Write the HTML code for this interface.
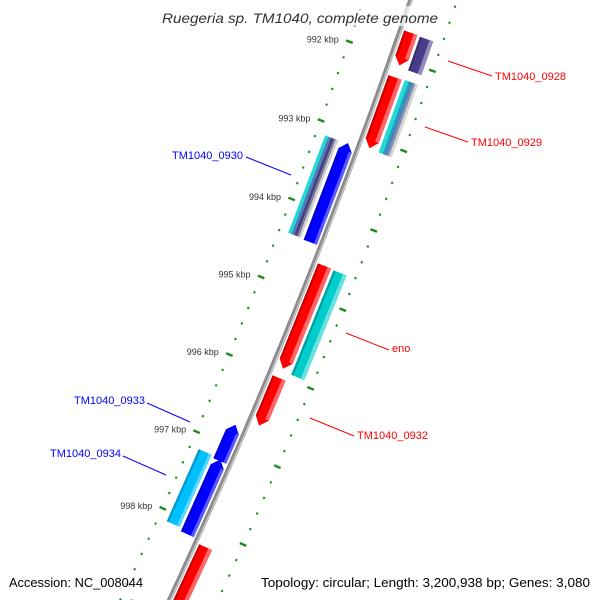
<!DOCTYPE html>
<html><head><meta charset="utf-8"><style>
html,body{margin:0;padding:0;background:#fff;width:600px;height:600px;overflow:hidden;}
svg{display:block;font-family:"Liberation Sans","DejaVu Sans",sans-serif;}
</style></head><body>
<svg id="map" width="600" height="600" viewBox="0 0 600 600" xmlns="http://www.w3.org/2000/svg">
<g id="ticks"></g>
<g id="backbone"></g>
<g id="genes"></g>
<g id="labels"></g>
<rect x="158" y="6" width="284" height="20" fill="#fff" opacity="0.7"/>
<text x="300" y="23" text-anchor="middle" font-size="14" font-style="italic" fill="#333" textLength="276" lengthAdjust="spacingAndGlyphs">Ruegeria sp. TM1040, complete genome</text>
<rect x="5" y="572" width="142" height="20" fill="#fff" opacity="0.7"/>
<text x="9" y="587" font-size="13" fill="#000" textLength="134" lengthAdjust="spacingAndGlyphs">Accession: NC_008044</text>
<rect x="256" y="572" width="338" height="20" fill="#fff" opacity="0.7"/>
<text x="261" y="587" font-size="13" fill="#000" textLength="329" lengthAdjust="spacingAndGlyphs">Topology: circular; Length: 3,200,938 bp; Genes: 3,080</text>
</svg>
<script>
const geneNames = ["TM1040_0928","TM1040_0928b","TM1040_0929","TM1040_0929b","TM1040_0930b","TM1040_0930","eno","enob","TM1040_0932","TM1040_0933","TM1040_0934","TM1040_0934b","next_gene","misc"];
const geneStarts = [991.66,991.67,992.22,992.21,993.15,993.14,994.60,994.61,996.03,996.74,997.19,997.18,998.21,999.14];
const geneEnds   = [992.07,992.09,993.11,993.12,994.39,994.40,995.91,995.94,996.64,997.21,998.16,998.12,999.49,999.59];
const geneLanes  = [1,2,1,2,2,1,1,2,1,1,1,2,1,2];
const geneStrands= [1,1,1,1,-1,-1,1,1,1,-1,-1,-1,1,-1];
const geneColors = ["#ff0000","#483d8b","#ff0000","stripeA","stripeB","#0000ff","#ff0000","#00cccc","#ff0000","#0000ff","#0000ff","#00bfff","#ff0000","#aaaaaa"];
const geneArrows = [1,0,1,0,0,1,1,0,1,1,1,0,1,0];
const tickMajor = [992,993,994,995,996,997,998];
const tickMinorStart = 991.2, tickMinorEnd = 999.6, tickStep = 0.2;

const NS="http://www.w3.org/2000/svg";
const CX=-5269, CY=-1935, R=6000, TH0=0.3805, DTH=0.01407;
function P(k,off){const t=TH0+(k-995)*DTH;const r=R+off;return [CX+r*Math.cos(t),CY+r*Math.sin(t)];}
function mk(tag,attrs,parent){const e=document.createElementNS(NS,tag);for(const a in attrs)e.setAttribute(a,attrs[a]);parent.appendChild(e);return e;}
function pts(arr){return arr.map(p=>p[0].toFixed(1)+","+p[1].toFixed(1)).join(" ");}

const bb=document.getElementById('backbone');
function arcPath(off){let d="";for(let k=990.5;k<=1000.5;k+=0.1){const p=P(k,off);d+=(d?"L":"M")+p[0].toFixed(1)+","+p[1].toFixed(1);}return d;}
const b1=mk('path',{d:arcPath(0),stroke:"#8c8c8c",'stroke-width':4.5,fill:"none"},bb);


const b2=mk('path',{d:arcPath(1.2),stroke:"#c8c8c8",'stroke-width':1.4,fill:"none"},bb);



const tg=document.getElementById('ticks');
for(let k=tickMinorStart;k<=tickMinorEnd+1e-6;k+=tickStep){
  const kk=Math.round(k*10)/10;
  const major=Math.abs(kk-Math.round(kk))<1e-6;
  for(const s of [-1,1]){
    const a=P(kk,s*(major?40.5:43.3)), b=P(kk,s*(major?47.5:45.3));
    const l=mk('line',{x1:a[0],y1:a[1],x2:b[0],y2:b[1],stroke:"#1a8a1a",'stroke-width':major?2.4:2.2},tg);
    
    
  }
}
tickMajor.forEach(k=>{
  const p=P(k,-50);
  const t=mk('text',{x:(p[0]-5).toFixed(1),y:(p[1]+3).toFixed(1),'text-anchor':'end','font-size':9,fill:"#333"},tg);
  t.textContent=k+" kbp";
  
  
});

const gg=document.getElementById('genes');
const L1=[4,18], L2=[21,35], AL=0.095;
const stripes={stripeA:[["#22d8d8",0.3],["#00a8b0",0.12],["#4a7fc0",0.22],["#8890a8",0.16],["#d4d4d4",0.2]],
               stripeB:[["#22d8d8",0.25],["#4682b4",0.2],["#483d8b",0.22],["#7a7a90",0.15],["#d0d0d0",0.18]]};
function lighten(c,f){const n=parseInt(c.slice(1),16);let r=n>>16,g=(n>>8)&255,b=n&255;r=Math.round(r+(255-r)*f);g=Math.round(g+(255-g)*f);b=Math.round(b+(255-b)*f);return `rgb(${r},${g},${b})`;}
function darken(c,f){const n=parseInt(c.slice(1),16);return `rgb(${Math.round((n>>16)*f)},${Math.round(((n>>8)&255)*f)},${Math.round((n&255)*f)})`;}
function band(s,e,o1,o2){return [P(s,o1),P(e,o1),P(e,o2),P(s,o2)];}
for(let i=0;i<geneNames.length;i++){
  const lane=geneLanes[i]===1?L1:L2, sd=geneStrands[i];
  const o1=sd*lane[0], o2=sd*lane[1]; const om=(o1+o2)/2;
  const s=geneStarts[i], e=geneEnds[i];
  const g=mk('g',{},gg);
  
  
  const col=geneColors[i];
  const w=lane[1]-lane[0];
  if(stripes[col]){
    let acc=0;
    stripes[col].forEach(([c,f])=>{
      let a,b;
      if(sd>0){a=lane[0]+acc*w;b=lane[0]+(acc+f)*w;}
      else{a=-(lane[1]-acc*w);b=-(lane[1]-(acc+f)*w);}
      acc+=f;
      mk('polygon',{points:pts(band(s,e,a,b)),fill:c},g);
    });
    continue;
  }
  let shape;
  if(geneArrows[i]){
    if(sd>0) shape=[P(s,o1),P(e-AL,o1),P(e,om),P(e-AL,o2),P(s,o2)];
    else shape=[P(e,o1),P(s+AL,o1),P(s,om),P(s+AL,o2),P(e,o2)];
  } else shape=band(s,e,o1,o2);
  mk('polygon',{points:pts(shape),fill:col},g);
  const bs=geneArrows[i]&&sd<0?s+AL:s, be=geneArrows[i]&&sd>0?e-AL:e;
  if(sd>0){
    mk('polygon',{points:pts(band(bs,be,o2-0.28*w,o2)),fill:lighten(col,0.4)},g);
    mk('polygon',{points:pts(band(bs,be,o1,o1+0.15*w)),fill:darken(col,0.78)},g);
  } else {
    mk('polygon',{points:pts(band(bs,be,-lane[0],-lane[0]-0.22*w)),fill:lighten(col,0.35)},g);
    mk('polygon',{points:pts(band(bs,be,-lane[1]+0.15*w,-lane[1])),fill:darken(col,0.8)},g);
  }
}

const lab=document.getElementById('labels');
const labelTexts=["TM1040_0928","TM1040_0929","TM1040_0930","eno","TM1040_0932","TM1040_0933","TM1040_0934"];
const labelColors=["#ff0000","#ff0000","#0000ff","#ff0000","#ff0000","#0000ff","#0000ff"];
const labelLayout=[[448,61,492,76,495,80,"start"],[425,127,468,142,471,146,"start"],[291,175,246,157,243,159,"end"],
  [346,333,389,350,392,352,"start"],[310,418,354,436,357,439,"start"],[190,422,147,403,145,404,"end"],[166,475,123,456,121,457,"end"]];
labelTexts.forEach((t,i)=>{
  const L=labelLayout[i];
  const ln=mk('line',{x1:L[0],y1:L[1],x2:L[2],y2:L[3],stroke:labelColors[i],'stroke-width':1},lab);
  
  
  const tx=mk('text',{x:L[4],y:L[5],'text-anchor':L[6],'font-size':11,fill:labelColors[i]},lab);
  tx.textContent=t;
  
  
});
</script>
</body></html>
